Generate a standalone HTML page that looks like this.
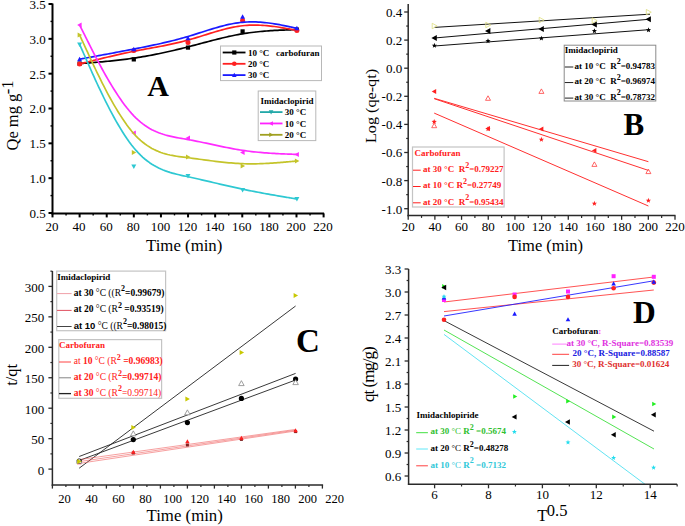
<!DOCTYPE html>
<html><head><meta charset="utf-8"><style>
html,body{margin:0;padding:0;background:#fff;width:685px;height:526px;overflow:hidden}
svg{display:block}
</style></head><body>
<svg width="685" height="526" viewBox="0 0 685 526">
<rect width="685" height="526" fill="#fff"/>
<polyline points="79.6,63.6 79.6,63.6 79.61,63.6 79.62,63.6 79.64,63.6 79.68,63.59 79.74,63.59 79.82,63.58 79.93,63.57 80.08,63.56 80.25,63.55 80.47,63.53 80.73,63.51 81.04,63.49 81.39,63.46 81.81,63.43 82.28,63.39 82.81,63.35 83.41,63.3 84.08,63.25 84.83,63.19 85.65,63.13 86.56,63.06 87.55,62.98 88.63,62.9 89.81,62.81 91.07,62.71 92.43,62.6 93.86,62.49 95.37,62.37 96.96,62.23 98.62,62.09 100.34,61.95 102.13,61.79 103.98,61.62 105.88,61.44 107.83,61.25 109.83,61.06 111.87,60.85 113.95,60.63 116.07,60.4 118.22,60.16 120.39,59.9 122.59,59.64 124.81,59.36 127.04,59.08 129.29,58.77 131.54,58.46 133.8,58.13 136.06,57.79 138.32,57.44 140.58,57.07 142.83,56.7 145.09,56.31 147.35,55.9 149.61,55.49 151.87,55.06 154.13,54.63 156.39,54.18 158.65,53.72 160.91,53.25 163.17,52.77 165.43,52.28 167.69,51.78 169.95,51.27 172.22,50.75 174.48,50.22 176.74,49.68 179.01,49.14 181.27,48.58 183.53,48.02 185.8,47.45 188.07,46.87 190.33,46.28 192.6,45.69 194.87,45.09 197.14,44.49 199.41,43.88 201.68,43.28 203.95,42.67 206.22,42.07 208.49,41.47 210.76,40.88 213.03,40.29 215.3,39.71 217.57,39.14 219.84,38.57 222.12,38.02 224.39,37.48 226.66,36.96 228.93,36.45 231.2,35.96 233.47,35.49 235.74,35.03 238.01,34.6 240.28,34.19 242.55,33.8 244.82,33.44 247.08,33.1 249.34,32.78 251.58,32.49 253.81,32.22 256.01,31.97 258.2,31.74 260.35,31.52 262.47,31.33 264.56,31.15 266.61,30.99 268.61,30.84 270.57,30.7 272.47,30.58 274.33,30.47 276.12,30.38 277.84,30.29 279.51,30.21 281.1,30.15 282.61,30.08 284.05,30.03 285.4,29.98 286.67,29.94 287.85,29.9 288.93,29.86 289.93,29.83 290.84,29.8 291.66,29.77 292.41,29.75 293.08,29.73 293.68,29.71 294.22,29.69 294.69,29.67 295.1,29.66 295.46,29.65 295.77,29.64 296.03,29.63 296.25,29.62 296.42,29.62 296.56,29.61 296.68,29.61 296.76,29.6 296.82,29.6 296.86,29.6 296.88,29.6 296.89,29.6 296.9,29.6 296.9,29.6" fill="none" stroke="#000" stroke-width="1.7" stroke-linejoin="round" />
<rect x="77.5" y="61.5" width="4.2" height="4.2" fill="#000" />
<rect x="131.7" y="57.3" width="4.2" height="4.2" fill="#000" />
<rect x="185.9" y="45.5" width="4.2" height="4.2" fill="#000" />
<rect x="240.5" y="29.3" width="4.2" height="4.2" fill="#000" />
<rect x="294.8" y="27.5" width="4.2" height="4.2" fill="#000" />
<polyline points="79.6,64 79.6,64 79.61,64 79.62,64 79.64,63.99 79.68,63.98 79.74,63.96 79.82,63.94 79.93,63.92 80.08,63.88 80.25,63.84 80.47,63.78 80.73,63.72 81.04,63.64 81.39,63.55 81.81,63.45 82.28,63.33 82.81,63.19 83.41,63.04 84.08,62.88 84.83,62.69 85.65,62.48 86.56,62.25 87.55,62.01 88.63,61.73 89.81,61.44 91.07,61.12 92.43,60.78 93.86,60.43 95.37,60.05 96.96,59.66 98.62,59.25 100.34,58.83 102.13,58.4 103.98,57.95 105.88,57.5 107.83,57.03 109.83,56.56 111.87,56.09 113.95,55.61 116.07,55.13 118.22,54.64 120.39,54.16 122.59,53.68 124.81,53.2 127.04,52.72 129.29,52.25 131.54,51.79 133.8,51.33 136.06,50.89 138.32,50.45 140.58,50.02 142.83,49.6 145.09,49.18 147.35,48.76 149.61,48.34 151.87,47.92 154.13,47.5 156.39,47.08 158.65,46.66 160.91,46.22 163.17,45.79 165.43,45.34 167.69,44.88 169.95,44.41 172.22,43.93 174.48,43.43 176.74,42.92 179.01,42.39 181.27,41.84 183.53,41.27 185.8,40.68 188.07,40.07 190.33,39.43 192.6,38.77 194.87,38.1 197.14,37.41 199.41,36.71 201.68,36 203.95,35.29 206.22,34.57 208.49,33.86 210.76,33.16 213.03,32.46 215.3,31.77 217.57,31.11 219.84,30.46 222.12,29.83 224.39,29.23 226.66,28.65 228.93,28.11 231.2,27.61 233.47,27.14 235.74,26.72 238.01,26.34 240.28,26.01 242.55,25.73 244.82,25.51 247.08,25.34 249.34,25.22 251.58,25.15 253.81,25.11 256.01,25.12 258.2,25.17 260.35,25.25 262.47,25.36 264.56,25.5 266.61,25.67 268.61,25.86 270.57,26.07 272.47,26.29 274.33,26.52 276.12,26.77 277.84,27.02 279.51,27.28 281.1,27.54 282.61,27.79 284.05,28.04 285.4,28.29 286.67,28.52 287.85,28.73 288.93,28.93 289.93,29.12 290.84,29.28 291.66,29.44 292.41,29.57 293.08,29.7 293.68,29.81 294.22,29.91 294.69,29.99 295.1,30.07 295.46,30.14 295.77,30.19 296.03,30.24 296.25,30.28 296.42,30.31 296.56,30.34 296.68,30.36 296.76,30.37 296.82,30.38 296.86,30.39 296.88,30.4 296.89,30.4 296.9,30.4 296.9,30.4" fill="none" stroke="#ff2020" stroke-width="1.7" stroke-linejoin="round" />
<circle cx="79.6" cy="64" r="2.5" fill="#ff2020" />
<circle cx="133.8" cy="50.4" r="2.5" fill="#ff2020" />
<circle cx="188" cy="42.4" r="2.5" fill="#ff2020" />
<circle cx="242.6" cy="20.4" r="2.5" fill="#ff2020" />
<circle cx="296.9" cy="30.4" r="2.5" fill="#ff2020" />
<polyline points="79.6,59.2 79.6,59.2 79.61,59.2 79.62,59.2 79.64,59.19 79.68,59.18 79.74,59.17 79.82,59.16 79.93,59.14 80.08,59.11 80.25,59.08 80.47,59.04 80.73,58.99 81.04,58.94 81.39,58.87 81.81,58.79 82.28,58.71 82.81,58.61 83.41,58.5 84.08,58.37 84.83,58.24 85.65,58.08 86.56,57.92 87.55,57.73 88.63,57.53 89.81,57.32 91.07,57.08 92.43,56.83 93.86,56.57 95.37,56.29 96.96,55.99 98.62,55.69 100.34,55.37 102.13,55.03 103.98,54.69 105.88,54.34 107.83,53.97 109.83,53.6 111.87,53.21 113.95,52.82 116.07,52.42 118.22,52.02 120.39,51.6 122.59,51.19 124.81,50.76 127.04,50.34 129.29,49.9 131.54,49.47 133.8,49.03 136.06,48.59 138.32,48.15 140.58,47.71 142.83,47.26 145.09,46.81 147.35,46.35 149.61,45.89 151.87,45.42 154.13,44.94 156.39,44.46 158.65,43.96 160.91,43.46 163.17,42.95 165.43,42.43 167.69,41.89 169.95,41.35 172.22,40.79 174.48,40.22 176.74,39.63 179.01,39.03 181.27,38.41 183.53,37.78 185.8,37.13 188.07,36.47 190.33,35.78 192.6,35.08 194.87,34.37 197.14,33.66 199.41,32.93 201.68,32.2 203.95,31.48 206.22,30.76 208.49,30.04 210.76,29.34 213.03,28.64 215.3,27.97 217.57,27.31 219.84,26.68 222.12,26.07 224.39,25.49 226.66,24.95 228.93,24.44 231.2,23.96 233.47,23.53 235.74,23.15 238.01,22.81 240.28,22.52 242.55,22.28 244.82,22.11 247.08,21.98 249.34,21.91 251.58,21.88 253.81,21.9 256.01,21.96 258.2,22.06 260.35,22.19 262.47,22.35 264.56,22.54 266.61,22.76 268.61,23 270.57,23.25 272.47,23.52 274.33,23.81 276.12,24.1 277.84,24.4 279.51,24.7 281.1,25 282.61,25.3 284.05,25.59 285.4,25.87 286.67,26.13 287.85,26.38 288.93,26.61 289.93,26.82 290.84,27.02 291.66,27.19 292.41,27.35 293.08,27.49 293.68,27.62 294.22,27.73 294.69,27.83 295.1,27.92 295.46,28 295.77,28.06 296.03,28.12 296.25,28.16 296.42,28.2 296.56,28.23 296.68,28.25 296.76,28.27 296.82,28.28 296.86,28.29 296.88,28.3 296.89,28.3 296.9,28.3 296.9,28.3" fill="none" stroke="#1a1aff" stroke-width="1.7" stroke-linejoin="round" />
<polygon points="79.6,56.7 82.1,61.2 77.1,61.2" fill="#1a1aff" />
<polygon points="133.8,46.7 136.3,51.2 131.3,51.2" fill="#1a1aff" />
<polygon points="188,35.7 190.5,40.2 185.5,40.2" fill="#1a1aff" />
<polygon points="242.6,14.3 245.1,18.8 240.1,18.8" fill="#1a1aff" />
<polygon points="296.9,25.8 299.4,30.3 294.4,30.3" fill="#1a1aff" />
<polyline points="79.6,44.4 79.6,44.4 79.61,44.41 79.62,44.44 79.64,44.49 79.68,44.58 79.74,44.72 79.82,44.91 79.93,45.15 80.08,45.47 80.25,45.87 80.47,46.36 80.73,46.95 81.04,47.64 81.39,48.44 81.81,49.37 82.28,50.43 82.81,51.64 83.41,52.99 84.08,54.51 84.83,56.19 85.65,58.04 86.56,60.09 87.55,62.33 88.63,64.77 89.81,67.42 91.07,70.26 92.43,73.28 93.86,76.47 95.37,79.79 96.96,83.25 98.62,86.81 100.34,90.47 102.13,94.21 103.98,98 105.88,101.84 107.83,105.7 109.83,109.56 111.87,113.42 113.95,117.26 116.07,121.05 118.22,124.78 120.39,128.44 122.59,132 124.81,135.45 127.04,138.77 129.29,141.95 131.54,144.96 133.8,147.8 136.06,150.45 138.32,152.9 140.58,155.18 142.83,157.29 145.09,159.24 147.35,161.03 149.61,162.68 151.87,164.19 154.13,165.58 156.39,166.84 158.65,167.99 160.91,169.05 163.17,170 165.43,170.88 167.69,171.67 169.95,172.4 172.22,173.06 174.48,173.68 176.74,174.25 179.01,174.79 181.27,175.3 183.53,175.8 185.8,176.28 188.07,176.77 190.33,177.26 192.6,177.76 194.87,178.26 197.14,178.77 199.41,179.29 201.68,179.81 203.95,180.34 206.22,180.86 208.49,181.39 210.76,181.93 213.03,182.46 215.3,182.99 217.57,183.52 219.84,184.06 222.12,184.59 224.39,185.11 226.66,185.64 228.93,186.16 231.2,186.68 233.47,187.19 235.74,187.69 238.01,188.19 240.28,188.68 242.55,189.17 244.82,189.64 247.08,190.11 249.34,190.56 251.58,191.01 253.81,191.45 256.01,191.87 258.2,192.29 260.35,192.7 262.47,193.09 264.56,193.48 266.61,193.85 268.61,194.21 270.57,194.56 272.47,194.89 274.33,195.21 276.12,195.52 277.84,195.82 279.51,196.1 281.1,196.37 282.61,196.63 284.05,196.87 285.4,197.09 286.67,197.3 287.85,197.5 288.93,197.68 289.93,197.84 290.84,198 291.66,198.13 292.41,198.26 293.08,198.37 293.68,198.47 294.22,198.56 294.69,198.63 295.1,198.7 295.46,198.76 295.77,198.81 296.03,198.86 296.25,198.89 296.42,198.92 296.56,198.94 296.68,198.96 296.76,198.98 296.82,198.99 296.86,198.99 296.88,199 296.89,199 296.9,199 296.9,199" fill="none" stroke="#2ec8d2" stroke-width="1.7" stroke-linejoin="round" />
<polygon points="79.6,46.9 82.1,42.4 77.1,42.4" fill="#2ec8d2" />
<polygon points="133.8,169.1 136.3,164.6 131.3,164.6" fill="#2ec8d2" />
<polygon points="188,178.5 190.5,174 185.5,174" fill="#2ec8d2" />
<polygon points="242.6,192.5 245.1,188 240.1,188" fill="#2ec8d2" />
<polygon points="296.9,201.5 299.4,197 294.4,197" fill="#2ec8d2" />
<polyline points="79.6,25 79.6,25 79.61,25.01 79.62,25.04 79.64,25.08 79.68,25.16 79.74,25.28 79.82,25.45 79.93,25.67 80.08,25.95 80.25,26.3 80.47,26.73 80.73,27.25 81.04,27.86 81.39,28.57 81.81,29.39 82.28,30.33 82.81,31.4 83.41,32.59 84.08,33.93 84.83,35.42 85.65,37.06 86.56,38.86 87.55,40.84 88.63,43 89.81,45.34 91.07,47.85 92.43,50.53 93.86,53.34 95.37,56.28 96.96,59.33 98.62,62.47 100.34,65.7 102.13,68.99 103.98,72.33 105.88,75.71 107.83,79.1 109.83,82.5 111.87,85.89 113.95,89.26 116.07,92.58 118.22,95.85 120.39,99.04 122.59,102.15 124.81,105.15 127.04,108.03 129.29,110.79 131.54,113.39 133.8,115.83 136.06,118.1 138.32,120.19 140.58,122.13 142.83,123.91 145.09,125.54 147.35,127.03 149.61,128.4 151.87,129.64 154.13,130.77 156.39,131.79 158.65,132.71 160.91,133.55 163.17,134.3 165.43,134.99 167.69,135.6 169.95,136.16 172.22,136.67 174.48,137.14 176.74,137.58 179.01,137.99 181.27,138.39 183.53,138.78 185.8,139.17 188.07,139.57 190.33,139.98 192.6,140.41 194.87,140.85 197.14,141.3 199.41,141.76 201.68,142.23 203.95,142.71 206.22,143.19 208.49,143.67 210.76,144.16 213.03,144.65 215.3,145.14 217.57,145.62 219.84,146.1 222.12,146.58 224.39,147.05 226.66,147.5 228.93,147.95 231.2,148.39 233.47,148.81 235.74,149.22 238.01,149.61 240.28,149.98 242.55,150.33 244.82,150.66 247.08,150.97 249.34,151.26 251.58,151.54 253.81,151.79 256.01,152.02 258.2,152.24 260.35,152.44 262.47,152.63 264.56,152.8 266.61,152.96 268.61,153.1 270.57,153.23 272.47,153.35 274.33,153.46 276.12,153.56 277.84,153.65 279.51,153.73 281.1,153.8 282.61,153.86 284.05,153.92 285.4,153.98 286.67,154.02 287.85,154.07 288.93,154.11 289.93,154.14 290.84,154.18 291.66,154.21 292.41,154.23 293.08,154.26 293.68,154.28 294.22,154.3 294.69,154.32 295.1,154.33 295.46,154.35 295.77,154.36 296.03,154.37 296.25,154.38 296.42,154.38 296.56,154.39 296.68,154.39 296.76,154.39 296.82,154.4 296.86,154.4 296.88,154.4 296.89,154.4 296.9,154.4 296.9,154.4" fill="none" stroke="#ff2cff" stroke-width="1.7" stroke-linejoin="round" />
<polygon points="77.1,25 81.6,22.5 81.6,27.5" fill="#ff2cff" />
<polygon points="131.3,133 135.8,130.5 135.8,135.5" fill="#ff2cff" />
<polygon points="185.5,138 190,135.5 190,140.5" fill="#ff2cff" />
<polygon points="240.1,152.4 244.6,149.9 244.6,154.9" fill="#ff2cff" />
<polygon points="294.4,154.4 298.9,151.9 298.9,156.9" fill="#ff2cff" />
<polyline points="79.6,35 79.6,35 79.61,35.01 79.62,35.04 79.64,35.09 79.68,35.18 79.74,35.31 79.82,35.49 79.93,35.72 80.08,36.03 80.25,36.42 80.47,36.88 80.73,37.45 81.04,38.11 81.39,38.88 81.81,39.78 82.28,40.8 82.81,41.95 83.41,43.25 84.08,44.71 84.83,46.32 85.65,48.11 86.56,50.07 87.55,52.22 88.63,54.57 89.81,57.11 91.07,59.84 92.43,62.75 93.86,65.8 95.37,69 96.96,72.31 98.62,75.73 100.34,79.23 102.13,82.81 103.98,86.44 105.88,90.11 107.83,93.8 109.83,97.49 111.87,101.17 113.95,104.82 116.07,108.42 118.22,111.96 120.39,115.42 122.59,118.79 124.81,122.04 127.04,125.17 129.29,128.15 131.54,130.96 133.8,133.6 136.06,136.05 138.32,138.3 140.58,140.38 142.83,142.29 145.09,144.04 147.35,145.63 149.61,147.08 151.87,148.39 154.13,149.57 156.39,150.64 158.65,151.59 160.91,152.44 163.17,153.2 165.43,153.87 167.69,154.46 169.95,154.99 172.22,155.45 174.48,155.87 176.74,156.24 179.01,156.57 181.27,156.88 183.53,157.17 185.8,157.45 188.07,157.73 190.33,158.02 192.6,158.31 194.87,158.61 197.14,158.91 199.41,159.22 201.68,159.52 203.95,159.83 206.22,160.13 208.49,160.43 210.76,160.73 213.03,161.02 215.3,161.3 217.57,161.57 219.84,161.84 222.12,162.09 224.39,162.34 226.66,162.56 228.93,162.78 231.2,162.97 233.47,163.15 235.74,163.31 238.01,163.45 240.28,163.57 242.55,163.67 244.82,163.74 247.08,163.79 249.34,163.81 251.58,163.82 253.81,163.81 256.01,163.78 258.2,163.73 260.35,163.67 262.47,163.6 264.56,163.51 266.61,163.42 268.61,163.31 270.57,163.2 272.47,163.08 274.33,162.96 276.12,162.83 277.84,162.7 279.51,162.57 281.1,162.43 282.61,162.3 284.05,162.18 285.4,162.06 286.67,161.94 287.85,161.83 288.93,161.73 289.93,161.64 290.84,161.56 291.66,161.48 292.41,161.41 293.08,161.35 293.68,161.3 294.22,161.25 294.69,161.2 295.1,161.17 295.46,161.13 295.77,161.1 296.03,161.08 296.25,161.06 296.42,161.04 296.56,161.03 296.68,161.02 296.76,161.01 296.82,161.01 296.86,161 296.88,161 296.89,161 296.9,161 296.9,161" fill="none" stroke="#c4c42a" stroke-width="1.7" stroke-linejoin="round" />
<polygon points="82.1,35 77.6,32.5 77.6,37.5" fill="#c4c42a" />
<polygon points="136.3,152.4 131.8,149.9 131.8,154.9" fill="#c4c42a" />
<polygon points="190.5,157 186,154.5 186,159.5" fill="#c4c42a" />
<polygon points="245.1,166 240.6,163.5 240.6,168.5" fill="#c4c42a" />
<polygon points="299.4,161 294.9,158.5 294.9,163.5" fill="#c4c42a" />
<line x1="52.5" y1="3.5" x2="52.5" y2="214.4" stroke="#000" stroke-width="2" />
<line x1="51.5" y1="213.4" x2="324.1" y2="213.4" stroke="#000" stroke-width="2" />
<line x1="48.5" y1="4" x2="52.5" y2="4" stroke="#000" stroke-width="2" />
<text x="45.8" y="8.9" font-family='"Liberation Serif", serif' font-size="13" font-weight="normal" text-anchor="end" fill="#000" >3.5</text>
<line x1="48.5" y1="38.84" x2="52.5" y2="38.84" stroke="#000" stroke-width="2" />
<text x="45.8" y="43.73" font-family='"Liberation Serif", serif' font-size="13" font-weight="normal" text-anchor="end" fill="#000" >3.0</text>
<line x1="48.5" y1="73.67" x2="52.5" y2="73.67" stroke="#000" stroke-width="2" />
<text x="45.8" y="78.57" font-family='"Liberation Serif", serif' font-size="13" font-weight="normal" text-anchor="end" fill="#000" >2.5</text>
<line x1="48.5" y1="108.5" x2="52.5" y2="108.5" stroke="#000" stroke-width="2" />
<text x="45.8" y="113.41" font-family='"Liberation Serif", serif' font-size="13" font-weight="normal" text-anchor="end" fill="#000" >2.0</text>
<line x1="48.5" y1="143.34" x2="52.5" y2="143.34" stroke="#000" stroke-width="2" />
<text x="45.8" y="148.24" font-family='"Liberation Serif", serif' font-size="13" font-weight="normal" text-anchor="end" fill="#000" >1.5</text>
<line x1="48.5" y1="178.18" x2="52.5" y2="178.18" stroke="#000" stroke-width="2" />
<text x="45.8" y="183.08" font-family='"Liberation Serif", serif' font-size="13" font-weight="normal" text-anchor="end" fill="#000" >1.0</text>
<line x1="48.5" y1="213.01" x2="52.5" y2="213.01" stroke="#000" stroke-width="2" />
<text x="45.8" y="217.91" font-family='"Liberation Serif", serif' font-size="13" font-weight="normal" text-anchor="end" fill="#000" >0.5</text>
<line x1="50.5" y1="21.42" x2="52.5" y2="21.42" stroke="#000" stroke-width="1.4" />
<line x1="50.5" y1="56.25" x2="52.5" y2="56.25" stroke="#000" stroke-width="1.4" />
<line x1="50.5" y1="91.09" x2="52.5" y2="91.09" stroke="#000" stroke-width="1.4" />
<line x1="50.5" y1="125.92" x2="52.5" y2="125.92" stroke="#000" stroke-width="1.4" />
<line x1="50.5" y1="160.76" x2="52.5" y2="160.76" stroke="#000" stroke-width="1.4" />
<line x1="50.5" y1="195.59" x2="52.5" y2="195.59" stroke="#000" stroke-width="1.4" />
<line x1="52.5" y1="213.4" x2="52.5" y2="217.4" stroke="#000" stroke-width="2" />
<text x="52" y="230.8" font-family='"Liberation Serif", serif' font-size="13" font-weight="normal" text-anchor="middle" fill="#000" >20</text>
<line x1="79.61" y1="213.4" x2="79.61" y2="217.4" stroke="#000" stroke-width="2" />
<text x="79.11" y="230.8" font-family='"Liberation Serif", serif' font-size="13" font-weight="normal" text-anchor="middle" fill="#000" >40</text>
<line x1="106.72" y1="213.4" x2="106.72" y2="217.4" stroke="#000" stroke-width="2" />
<text x="106.22" y="230.8" font-family='"Liberation Serif", serif' font-size="13" font-weight="normal" text-anchor="middle" fill="#000" >60</text>
<line x1="133.83" y1="213.4" x2="133.83" y2="217.4" stroke="#000" stroke-width="2" />
<text x="133.33" y="230.8" font-family='"Liberation Serif", serif' font-size="13" font-weight="normal" text-anchor="middle" fill="#000" >80</text>
<line x1="160.94" y1="213.4" x2="160.94" y2="217.4" stroke="#000" stroke-width="2" />
<text x="160.44" y="230.8" font-family='"Liberation Serif", serif' font-size="13" font-weight="normal" text-anchor="middle" fill="#000" >100</text>
<line x1="188.05" y1="213.4" x2="188.05" y2="217.4" stroke="#000" stroke-width="2" />
<text x="187.55" y="230.8" font-family='"Liberation Serif", serif' font-size="13" font-weight="normal" text-anchor="middle" fill="#000" >120</text>
<line x1="215.16" y1="213.4" x2="215.16" y2="217.4" stroke="#000" stroke-width="2" />
<text x="214.66" y="230.8" font-family='"Liberation Serif", serif' font-size="13" font-weight="normal" text-anchor="middle" fill="#000" >140</text>
<line x1="242.27" y1="213.4" x2="242.27" y2="217.4" stroke="#000" stroke-width="2" />
<text x="241.77" y="230.8" font-family='"Liberation Serif", serif' font-size="13" font-weight="normal" text-anchor="middle" fill="#000" >160</text>
<line x1="269.38" y1="213.4" x2="269.38" y2="217.4" stroke="#000" stroke-width="2" />
<text x="268.88" y="230.8" font-family='"Liberation Serif", serif' font-size="13" font-weight="normal" text-anchor="middle" fill="#000" >180</text>
<line x1="296.49" y1="213.4" x2="296.49" y2="217.4" stroke="#000" stroke-width="2" />
<text x="295.99" y="230.8" font-family='"Liberation Serif", serif' font-size="13" font-weight="normal" text-anchor="middle" fill="#000" >200</text>
<line x1="323.6" y1="213.4" x2="323.6" y2="217.4" stroke="#000" stroke-width="2" />
<text x="323.1" y="230.8" font-family='"Liberation Serif", serif' font-size="13" font-weight="normal" text-anchor="middle" fill="#000" >220</text>
<line x1="66.06" y1="213.4" x2="66.06" y2="215.4" stroke="#000" stroke-width="1.4" />
<line x1="93.17" y1="213.4" x2="93.17" y2="215.4" stroke="#000" stroke-width="1.4" />
<line x1="120.28" y1="213.4" x2="120.28" y2="215.4" stroke="#000" stroke-width="1.4" />
<line x1="147.38" y1="213.4" x2="147.38" y2="215.4" stroke="#000" stroke-width="1.4" />
<line x1="174.5" y1="213.4" x2="174.5" y2="215.4" stroke="#000" stroke-width="1.4" />
<line x1="201.61" y1="213.4" x2="201.61" y2="215.4" stroke="#000" stroke-width="1.4" />
<line x1="228.72" y1="213.4" x2="228.72" y2="215.4" stroke="#000" stroke-width="1.4" />
<line x1="255.82" y1="213.4" x2="255.82" y2="215.4" stroke="#000" stroke-width="1.4" />
<line x1="282.94" y1="213.4" x2="282.94" y2="215.4" stroke="#000" stroke-width="1.4" />
<line x1="310.05" y1="213.4" x2="310.05" y2="215.4" stroke="#000" stroke-width="1.4" />
<text x="184.2" y="250.6" font-family='"Liberation Serif", serif' font-size="16.8" font-weight="normal" text-anchor="middle" fill="#000" >Time (min)</text>
<text transform="translate(17.6,150.5) rotate(-90)" font-family='"Liberation Serif", serif' font-size="16.5" text-anchor="start" fill="#000">Qe mg g<tspan dy="-4.6" dx="-0.6">-1</tspan></text>
<text x="147.2" y="95.9" font-family='"Liberation Serif", serif' font-size="30" font-weight="bold" text-anchor="start" fill="#000" >A</text>
<rect x="220.5" y="46" width="101" height="34.6" fill="#fff" stroke="#b8b8b8" stroke-width="1"/>
<line x1="222.7" y1="52.5" x2="245.5" y2="52.5" stroke="#000" stroke-width="1.8" />
<rect x="232.2" y="50.4" width="4.2" height="4.2" fill="#000" />
<text x="247.9" y="55.7" font-family='"Liberation Serif", serif' font-size="9" font-weight="bold" text-anchor="start" fill="#000" >10 °C</text>
<line x1="222.7" y1="63.8" x2="245.5" y2="63.8" stroke="#ff2020" stroke-width="1.8" />
<circle cx="234.3" cy="63.8" r="2.3" fill="#ff2020" />
<text x="247.9" y="67" font-family='"Liberation Serif", serif' font-size="9" font-weight="bold" text-anchor="start" fill="#000" >20 °C</text>
<line x1="222.7" y1="75.1" x2="245.5" y2="75.1" stroke="#1a1aff" stroke-width="1.8" />
<polygon points="234.3,72.8 236.6,76.94 232,76.94" fill="#1a1aff" />
<text x="247.9" y="78.3" font-family='"Liberation Serif", serif' font-size="9" font-weight="bold" text-anchor="start" fill="#000" >30 °C</text>
<text x="276" y="55.7" font-family='"Liberation Serif", serif' font-size="9" font-weight="bold" text-anchor="start" fill="#000" >carbofuran</text>
<rect x="258.2" y="91" width="57.6" height="49.6" fill="#fff" stroke="#b8b8b8" stroke-width="1"/>
<text x="260.5" y="103.5" font-family='"Liberation Serif", serif' font-size="9" font-weight="bold" text-anchor="start" fill="#000" >Imidaclopirid</text>
<line x1="260" y1="112.1" x2="282.5" y2="112.1" stroke="#22a8a8" stroke-width="1.8" />
<polygon points="271.1,114.4 273.4,110.26 268.8,110.26" fill="#22a8a8" />
<text x="284.8" y="115.3" font-family='"Liberation Serif", serif' font-size="9" font-weight="bold" text-anchor="start" fill="#000" >30 °C</text>
<line x1="260" y1="123.45" x2="282.5" y2="123.45" stroke="#ff22ff" stroke-width="1.8" />
<polygon points="268.8,123.45 272.94,121.15 272.94,125.75" fill="#ff22ff" />
<text x="284.8" y="126.65" font-family='"Liberation Serif", serif' font-size="9" font-weight="bold" text-anchor="start" fill="#000" >10 °C</text>
<line x1="260" y1="134.8" x2="282.5" y2="134.8" stroke="#a0a020" stroke-width="1.8" />
<polygon points="273.4,134.8 269.26,132.5 269.26,137.1" fill="#a0a020" />
<text x="284.8" y="138" font-family='"Liberation Serif", serif' font-size="9" font-weight="bold" text-anchor="start" fill="#000" >20 °C</text>
<line x1="434.4" y1="27.4" x2="650" y2="14.2" stroke="#111" stroke-width="1" />
<line x1="434.4" y1="38" x2="650" y2="19.2" stroke="#111" stroke-width="1" />
<line x1="434.4" y1="46" x2="650" y2="29.6" stroke="#111" stroke-width="1" />
<line x1="434.2" y1="98.3" x2="648.4" y2="161.7" stroke="#ff3030" stroke-width="1" />
<line x1="434.2" y1="98.7" x2="648.4" y2="170.4" stroke="#ff3030" stroke-width="1" />
<line x1="434.2" y1="113.1" x2="648.4" y2="206" stroke="#ff3030" stroke-width="1" />
<polygon points="437.15,26 432.2,23.25 432.2,28.75" fill="none" stroke="#dede80" stroke-width="0.8"/>
<polygon points="490.75,25 485.8,22.25 485.8,27.75" fill="none" stroke="#dede80" stroke-width="0.8"/>
<polygon points="544.15,20 539.2,17.25 539.2,22.75" fill="none" stroke="#dede80" stroke-width="0.8"/>
<polygon points="597.15,20.6 592.2,17.85 592.2,23.35" fill="none" stroke="#dede80" stroke-width="0.8"/>
<polygon points="651.25,12.2 646.3,9.45 646.3,14.95" fill="none" stroke="#dede80" stroke-width="0.8"/>
<polygon points="431.4,38 436.8,35 436.8,41" fill="#000" />
<polygon points="485,31 490.4,28 490.4,34" fill="#000" />
<polygon points="538.4,29 543.8,26 543.8,32" fill="#000" />
<polygon points="591.4,24.6 596.8,21.6 596.8,27.6" fill="#000" />
<polygon points="645.5,19.2 650.9,16.2 650.9,22.2" fill="#000" />
<polygon points="434.4,42.85 435.08,44.67 437.02,44.75 435.5,45.96 436.02,47.82 434.4,46.76 432.78,47.82 433.3,45.96 431.78,44.75 433.72,44.67" fill="#000" />
<polygon points="488,38.25 488.68,40.07 490.62,40.15 489.1,41.36 489.62,43.22 488,42.16 486.38,43.22 486.9,41.36 485.38,40.15 487.32,40.07" fill="#000" />
<polygon points="541.4,35.65 542.08,37.47 544.02,37.55 542.5,38.76 543.02,40.62 541.4,39.55 539.78,40.62 540.3,38.76 538.78,37.55 540.72,37.47" fill="#000" />
<polygon points="594.4,28.25 595.08,30.07 597.02,30.15 595.5,31.36 596.02,33.22 594.4,32.16 592.78,33.22 593.3,31.36 591.78,30.15 593.72,30.07" fill="#000" />
<polygon points="648.5,27.35 649.18,29.17 651.12,29.25 649.6,30.46 650.12,32.32 648.5,31.26 646.88,32.32 647.4,30.46 645.88,29.25 647.82,29.17" fill="#000" />
<polygon points="434.2,123.2 436.7,127.7 431.7,127.7" fill="none" stroke="#ff4040" stroke-width="0.8"/>
<polygon points="488,95.8 490.5,100.3 485.5,100.3" fill="none" stroke="#ff4040" stroke-width="0.8"/>
<polygon points="541.4,88.9 543.9,93.4 538.9,93.4" fill="none" stroke="#ff4040" stroke-width="0.8"/>
<polygon points="594.4,161.9 596.9,166.4 591.9,166.4" fill="none" stroke="#ff4040" stroke-width="0.8"/>
<polygon points="648.4,169.1 650.9,173.6 645.9,173.6" fill="none" stroke="#ff4040" stroke-width="0.8"/>
<polygon points="431.7,91.6 436.2,89.1 436.2,94.1" fill="#ff2020" />
<polygon points="485.5,128.4 490,125.9 490,130.9" fill="#ff2020" />
<polygon points="538.9,129 543.4,126.5 543.4,131.5" fill="#ff2020" />
<polygon points="591.9,150.4 596.4,147.9 596.4,152.9" fill="#ff2020" />
<polygon points="434.2,119.05 434.88,120.87 436.82,120.95 435.3,122.16 435.82,124.02 434.2,122.95 432.58,124.02 433.1,122.16 431.58,120.95 433.52,120.87" fill="#ff2020" />
<polygon points="488,126.25 488.68,128.07 490.62,128.15 489.1,129.36 489.62,131.22 488,130.16 486.38,131.22 486.9,129.36 485.38,128.15 487.32,128.07" fill="#ff2020" />
<polygon points="541.4,136.85 542.08,138.67 544.02,138.75 542.5,139.96 543.02,141.82 541.4,140.75 539.78,141.82 540.3,139.96 538.78,138.75 540.72,138.67" fill="#ff2020" />
<polygon points="594.4,200.85 595.08,202.67 597.02,202.75 595.5,203.96 596.02,205.82 594.4,204.75 592.78,205.82 593.3,203.96 591.78,202.75 593.72,202.67" fill="#ff2020" />
<polygon points="648.4,197.85 649.08,199.67 651.02,199.75 649.5,200.96 650.02,202.82 648.4,201.75 646.78,202.82 647.3,200.96 645.78,199.75 647.72,199.67" fill="#ff2020" />
<line x1="408.2" y1="4" x2="408.2" y2="216.3" stroke="#2a2a2a" stroke-width="1.5" />
<line x1="407.5" y1="215.6" x2="675.5" y2="215.6" stroke="#2a2a2a" stroke-width="1.5" />
<line x1="404.2" y1="12" x2="408.2" y2="12" stroke="#2a2a2a" stroke-width="1.3" />
<text x="402.2" y="16.9" font-family='"Liberation Serif", serif' font-size="13" font-weight="normal" text-anchor="end" fill="#000" >0.4</text>
<line x1="404.2" y1="40.1" x2="408.2" y2="40.1" stroke="#2a2a2a" stroke-width="1.3" />
<text x="402.2" y="45" font-family='"Liberation Serif", serif' font-size="13" font-weight="normal" text-anchor="end" fill="#000" >0.2</text>
<line x1="404.2" y1="68.2" x2="408.2" y2="68.2" stroke="#2a2a2a" stroke-width="1.3" />
<text x="402.2" y="73.1" font-family='"Liberation Serif", serif' font-size="13" font-weight="normal" text-anchor="end" fill="#000" >0.0</text>
<line x1="404.2" y1="96.3" x2="408.2" y2="96.3" stroke="#2a2a2a" stroke-width="1.3" />
<text x="402.2" y="101.2" font-family='"Liberation Serif", serif' font-size="13" font-weight="normal" text-anchor="end" fill="#000" >-0.2</text>
<line x1="404.2" y1="124.4" x2="408.2" y2="124.4" stroke="#2a2a2a" stroke-width="1.3" />
<text x="402.2" y="129.3" font-family='"Liberation Serif", serif' font-size="13" font-weight="normal" text-anchor="end" fill="#000" >-0.4</text>
<line x1="404.2" y1="152.5" x2="408.2" y2="152.5" stroke="#2a2a2a" stroke-width="1.3" />
<text x="402.2" y="157.4" font-family='"Liberation Serif", serif' font-size="13" font-weight="normal" text-anchor="end" fill="#000" >-0.6</text>
<line x1="404.2" y1="180.6" x2="408.2" y2="180.6" stroke="#2a2a2a" stroke-width="1.3" />
<text x="402.2" y="185.5" font-family='"Liberation Serif", serif' font-size="13" font-weight="normal" text-anchor="end" fill="#000" >-0.8</text>
<line x1="404.2" y1="208.7" x2="408.2" y2="208.7" stroke="#2a2a2a" stroke-width="1.3" />
<text x="402.2" y="213.6" font-family='"Liberation Serif", serif' font-size="13" font-weight="normal" text-anchor="end" fill="#000" >-1.0</text>
<line x1="406.2" y1="26.05" x2="408.2" y2="26.05" stroke="#2a2a2a" stroke-width="1.2" />
<line x1="406.2" y1="54.15" x2="408.2" y2="54.15" stroke="#2a2a2a" stroke-width="1.2" />
<line x1="406.2" y1="82.25" x2="408.2" y2="82.25" stroke="#2a2a2a" stroke-width="1.2" />
<line x1="406.2" y1="110.35" x2="408.2" y2="110.35" stroke="#2a2a2a" stroke-width="1.2" />
<line x1="406.2" y1="138.45" x2="408.2" y2="138.45" stroke="#2a2a2a" stroke-width="1.2" />
<line x1="406.2" y1="166.55" x2="408.2" y2="166.55" stroke="#2a2a2a" stroke-width="1.2" />
<line x1="406.2" y1="194.65" x2="408.2" y2="194.65" stroke="#2a2a2a" stroke-width="1.2" />
<line x1="408.2" y1="215.6" x2="408.2" y2="219.8" stroke="#2a2a2a" stroke-width="1.3" />
<text x="408.2" y="231.2" font-family='"Liberation Serif", serif' font-size="13" font-weight="normal" text-anchor="middle" fill="#000" >20</text>
<line x1="434.88" y1="215.6" x2="434.88" y2="219.8" stroke="#2a2a2a" stroke-width="1.3" />
<text x="434.88" y="231.2" font-family='"Liberation Serif", serif' font-size="13" font-weight="normal" text-anchor="middle" fill="#000" >40</text>
<line x1="461.56" y1="215.6" x2="461.56" y2="219.8" stroke="#2a2a2a" stroke-width="1.3" />
<text x="461.56" y="231.2" font-family='"Liberation Serif", serif' font-size="13" font-weight="normal" text-anchor="middle" fill="#000" >60</text>
<line x1="488.24" y1="215.6" x2="488.24" y2="219.8" stroke="#2a2a2a" stroke-width="1.3" />
<text x="488.24" y="231.2" font-family='"Liberation Serif", serif' font-size="13" font-weight="normal" text-anchor="middle" fill="#000" >80</text>
<line x1="514.92" y1="215.6" x2="514.92" y2="219.8" stroke="#2a2a2a" stroke-width="1.3" />
<text x="514.92" y="231.2" font-family='"Liberation Serif", serif' font-size="13" font-weight="normal" text-anchor="middle" fill="#000" >100</text>
<line x1="541.6" y1="215.6" x2="541.6" y2="219.8" stroke="#2a2a2a" stroke-width="1.3" />
<text x="541.6" y="231.2" font-family='"Liberation Serif", serif' font-size="13" font-weight="normal" text-anchor="middle" fill="#000" >120</text>
<line x1="568.28" y1="215.6" x2="568.28" y2="219.8" stroke="#2a2a2a" stroke-width="1.3" />
<text x="568.28" y="231.2" font-family='"Liberation Serif", serif' font-size="13" font-weight="normal" text-anchor="middle" fill="#000" >140</text>
<line x1="594.96" y1="215.6" x2="594.96" y2="219.8" stroke="#2a2a2a" stroke-width="1.3" />
<text x="594.96" y="231.2" font-family='"Liberation Serif", serif' font-size="13" font-weight="normal" text-anchor="middle" fill="#000" >160</text>
<line x1="621.64" y1="215.6" x2="621.64" y2="219.8" stroke="#2a2a2a" stroke-width="1.3" />
<text x="621.64" y="231.2" font-family='"Liberation Serif", serif' font-size="13" font-weight="normal" text-anchor="middle" fill="#000" >180</text>
<line x1="648.32" y1="215.6" x2="648.32" y2="219.8" stroke="#2a2a2a" stroke-width="1.3" />
<text x="648.32" y="231.2" font-family='"Liberation Serif", serif' font-size="13" font-weight="normal" text-anchor="middle" fill="#000" >200</text>
<line x1="675" y1="215.6" x2="675" y2="219.8" stroke="#2a2a2a" stroke-width="1.3" />
<text x="675" y="231.2" font-family='"Liberation Serif", serif' font-size="13" font-weight="normal" text-anchor="middle" fill="#000" >220</text>
<line x1="421.54" y1="215.6" x2="421.54" y2="217.9" stroke="#2a2a2a" stroke-width="1.2" />
<line x1="448.22" y1="215.6" x2="448.22" y2="217.9" stroke="#2a2a2a" stroke-width="1.2" />
<line x1="474.9" y1="215.6" x2="474.9" y2="217.9" stroke="#2a2a2a" stroke-width="1.2" />
<line x1="501.58" y1="215.6" x2="501.58" y2="217.9" stroke="#2a2a2a" stroke-width="1.2" />
<line x1="528.26" y1="215.6" x2="528.26" y2="217.9" stroke="#2a2a2a" stroke-width="1.2" />
<line x1="554.94" y1="215.6" x2="554.94" y2="217.9" stroke="#2a2a2a" stroke-width="1.2" />
<line x1="581.62" y1="215.6" x2="581.62" y2="217.9" stroke="#2a2a2a" stroke-width="1.2" />
<line x1="608.3" y1="215.6" x2="608.3" y2="217.9" stroke="#2a2a2a" stroke-width="1.2" />
<line x1="634.98" y1="215.6" x2="634.98" y2="217.9" stroke="#2a2a2a" stroke-width="1.2" />
<line x1="661.66" y1="215.6" x2="661.66" y2="217.9" stroke="#2a2a2a" stroke-width="1.2" />
<text x="545.5" y="251" font-family='"Liberation Serif", serif' font-size="16.5" font-weight="normal" text-anchor="middle" fill="#000" >Time (min)</text>
<text transform="translate(375.6,106) rotate(-90)" font-family='"Liberation Serif", serif' font-size="15.2" textLength="74.2" lengthAdjust="spacingAndGlyphs" text-anchor="middle" fill="#000">Log (qe-qt)</text>
<text x="623.5" y="134.5" font-family='"Liberation Serif", serif' font-size="31" font-weight="bold" text-anchor="start" fill="#000" >B</text>
<rect x="564.2" y="45.2" width="91.6" height="55.8" fill="#fff" stroke="#8a8a8a" stroke-width="1"/>
<text x="564.8" y="52.7" font-family='"Liberation Serif", serif' font-size="9" font-weight="bold" text-anchor="start" fill="#000" >Imidaclopirid</text>
<line x1="564.8" y1="67" x2="573.3" y2="67" stroke="#222" stroke-width="1" />
<text x="574.6" y="68.5" font-family='"Liberation Serif", serif' font-size="9" font-weight="bold" text-anchor="start" fill="#000" >at 10 °C&#160;&#160;R<tspan font-size="8" dy="-4.5">2</tspan><tspan dy="4.5">=0.94783</tspan></text>
<line x1="564.8" y1="82.55" x2="573.3" y2="82.55" stroke="#222" stroke-width="1" />
<text x="574.6" y="84.05" font-family='"Liberation Serif", serif' font-size="9" font-weight="bold" text-anchor="start" fill="#000" >at 20 °C&#160;&#160;R<tspan font-size="8" dy="-4.5">2</tspan><tspan dy="4.5">=0.96974</tspan></text>
<line x1="564.8" y1="98.1" x2="573.3" y2="98.1" stroke="#222" stroke-width="1" />
<text x="574.6" y="99.6" font-family='"Liberation Serif", serif' font-size="9" font-weight="bold" text-anchor="start" fill="#000" >at 30 °C&#160;&#160;R<tspan font-size="8" dy="-4.5">2</tspan><tspan dy="4.5">=0.78732</tspan></text>
<rect x="412.5" y="147" width="91.6" height="60" fill="#fff" stroke="#c4c4c4" stroke-width="1.2"/>
<text x="414.6" y="155.7" font-family='"Liberation Serif", serif' font-size="9" font-weight="bold" text-anchor="start" fill="#ff2020" >Carbofuran</text>
<line x1="413" y1="170.2" x2="420.7" y2="170.2" stroke="#ff2020" stroke-width="1" />
<text x="423.1" y="172" font-family='"Liberation Serif", serif' font-size="9" font-weight="bold" text-anchor="start" fill="#ff2020" >at 30 °C&#160;&#160;R<tspan font-size="8" dy="-4.5">2</tspan><tspan dy="4.5">=0.79227</tspan></text>
<line x1="413" y1="186.5" x2="420.7" y2="186.5" stroke="#ff2020" stroke-width="1" />
<text x="423.1" y="188.3" font-family='"Liberation Serif", serif' font-size="9" font-weight="bold" text-anchor="start" fill="#ff2020" >at 10 °C R<tspan font-size="8" dy="-4.5">2</tspan><tspan dy="4.5">=0.27749</tspan></text>
<line x1="413" y1="202.8" x2="420.7" y2="202.8" stroke="#ff2020" stroke-width="1" />
<text x="423.1" y="204.6" font-family='"Liberation Serif", serif' font-size="9" font-weight="bold" text-anchor="start" fill="#ff2020" >at 20 °C&#160;&#160;R<tspan font-size="8" dy="-4.5">2</tspan><tspan dy="4.5">=0.95434</tspan></text>
<line x1="79.2" y1="468.2" x2="295.6" y2="306" stroke="#222" stroke-width="0.9" />
<line x1="79.2" y1="456.5" x2="295.6" y2="373.4" stroke="#222" stroke-width="0.9" />
<line x1="79.2" y1="460.5" x2="295.6" y2="380" stroke="#222" stroke-width="0.9" />
<line x1="79.2" y1="459.6" x2="295.6" y2="429.4" stroke="#f06060" stroke-width="0.6" />
<line x1="79.2" y1="461.6" x2="295.6" y2="430.2" stroke="#f06060" stroke-width="0.6" />
<line x1="79.2" y1="463.4" x2="295.6" y2="431" stroke="#f06060" stroke-width="0.6" />
<rect x="131.8" y="451.5" width="3" height="3" fill="#802020" />
<rect x="185.9" y="443.5" width="3" height="3" fill="#802020" />
<rect x="239.9" y="437.9" width="3" height="3" fill="#802020" />
<rect x="294.1" y="430.1" width="3" height="3" fill="#802020" />
<polygon points="79.2,460.25 81.45,464.3 76.95,464.3" fill="#ff2020" />
<polygon points="133.3,449.75 135.55,453.8 131.05,453.8" fill="#ff2020" />
<polygon points="187.4,439.15 189.65,443.2 185.15,443.2" fill="#ff2020" />
<polygon points="241.4,435.75 243.65,439.8 239.15,439.8" fill="#ff2020" />
<polygon points="295.6,428.15 297.85,432.2 293.35,432.2" fill="#ff2020" />
<circle cx="79.2" cy="461" r="2.6" fill="#000" />
<circle cx="133.3" cy="439.6" r="2.6" fill="#000" />
<circle cx="187.4" cy="422.6" r="2.6" fill="#000" />
<circle cx="241.4" cy="398.4" r="2.6" fill="#000" />
<circle cx="295.6" cy="379" r="2.6" fill="#000" />
<polygon points="79.2,458.25 81.95,463.2 76.45,463.2" fill="#fff" stroke="#888" stroke-width="0.8"/>
<polygon points="133.3,430.85 136.05,435.8 130.55,435.8" fill="#fff" stroke="#888" stroke-width="0.8"/>
<polygon points="187.4,409.85 190.15,414.8 184.65,414.8" fill="#fff" stroke="#888" stroke-width="0.8"/>
<polygon points="241.4,380.65 244.15,385.6 238.65,385.6" fill="#fff" stroke="#888" stroke-width="0.8"/>
<polygon points="295.6,379.65 298.35,384.6 292.85,384.6" fill="#fff" stroke="#888" stroke-width="0.8"/>
<polygon points="81.7,461.4 77.2,458.9 77.2,463.9" fill="#c8c800" />
<polygon points="135.8,427.6 131.3,425.1 131.3,430.1" fill="#c8c800" />
<polygon points="189.9,399 185.4,396.5 185.4,401.5" fill="#c8c800" />
<polygon points="244.1,352.6 239.6,350.1 239.6,355.1" fill="#c8c800" />
<polygon points="298.1,295.4 293.6,292.9 293.6,297.9" fill="#c8c800" />
<line x1="52.4" y1="271" x2="52.4" y2="485.7" stroke="#2a2a2a" stroke-width="1.5" />
<line x1="51.7" y1="485" x2="323.1" y2="485" stroke="#2a2a2a" stroke-width="1.5" />
<line x1="48.4" y1="286.4" x2="52.4" y2="286.4" stroke="#2a2a2a" stroke-width="1.3" />
<text x="44.3" y="291.8" font-family='"Liberation Serif", serif' font-size="13" font-weight="normal" text-anchor="end" fill="#000" >300</text>
<line x1="48.4" y1="316.85" x2="52.4" y2="316.85" stroke="#2a2a2a" stroke-width="1.3" />
<text x="44.3" y="322.25" font-family='"Liberation Serif", serif' font-size="13" font-weight="normal" text-anchor="end" fill="#000" >250</text>
<line x1="48.4" y1="347.3" x2="52.4" y2="347.3" stroke="#2a2a2a" stroke-width="1.3" />
<text x="44.3" y="352.7" font-family='"Liberation Serif", serif' font-size="13" font-weight="normal" text-anchor="end" fill="#000" >200</text>
<line x1="48.4" y1="377.75" x2="52.4" y2="377.75" stroke="#2a2a2a" stroke-width="1.3" />
<text x="44.3" y="383.15" font-family='"Liberation Serif", serif' font-size="13" font-weight="normal" text-anchor="end" fill="#000" >150</text>
<line x1="48.4" y1="408.2" x2="52.4" y2="408.2" stroke="#2a2a2a" stroke-width="1.3" />
<text x="44.3" y="413.6" font-family='"Liberation Serif", serif' font-size="13" font-weight="normal" text-anchor="end" fill="#000" >100</text>
<line x1="48.4" y1="438.65" x2="52.4" y2="438.65" stroke="#2a2a2a" stroke-width="1.3" />
<text x="44.3" y="444.05" font-family='"Liberation Serif", serif' font-size="13" font-weight="normal" text-anchor="end" fill="#000" >50</text>
<line x1="48.4" y1="469.1" x2="52.4" y2="469.1" stroke="#2a2a2a" stroke-width="1.3" />
<text x="44.3" y="474.5" font-family='"Liberation Serif", serif' font-size="13" font-weight="normal" text-anchor="end" fill="#000" >0</text>
<line x1="50.4" y1="271.18" x2="52.4" y2="271.18" stroke="#2a2a2a" stroke-width="1.2" />
<line x1="50.4" y1="301.62" x2="52.4" y2="301.62" stroke="#2a2a2a" stroke-width="1.2" />
<line x1="50.4" y1="332.08" x2="52.4" y2="332.08" stroke="#2a2a2a" stroke-width="1.2" />
<line x1="50.4" y1="362.53" x2="52.4" y2="362.53" stroke="#2a2a2a" stroke-width="1.2" />
<line x1="50.4" y1="392.98" x2="52.4" y2="392.98" stroke="#2a2a2a" stroke-width="1.2" />
<line x1="50.4" y1="423.43" x2="52.4" y2="423.43" stroke="#2a2a2a" stroke-width="1.2" />
<line x1="50.4" y1="453.88" x2="52.4" y2="453.88" stroke="#2a2a2a" stroke-width="1.2" />
<line x1="52.4" y1="485" x2="52.4" y2="488.6" stroke="#2a2a2a" stroke-width="1.3" />
<line x1="79.4" y1="485" x2="79.4" y2="488.6" stroke="#2a2a2a" stroke-width="1.3" />
<line x1="106.4" y1="485" x2="106.4" y2="488.6" stroke="#2a2a2a" stroke-width="1.3" />
<line x1="133.4" y1="485" x2="133.4" y2="488.6" stroke="#2a2a2a" stroke-width="1.3" />
<line x1="160.4" y1="485" x2="160.4" y2="488.6" stroke="#2a2a2a" stroke-width="1.3" />
<line x1="187.4" y1="485" x2="187.4" y2="488.6" stroke="#2a2a2a" stroke-width="1.3" />
<line x1="214.4" y1="485" x2="214.4" y2="488.6" stroke="#2a2a2a" stroke-width="1.3" />
<line x1="241.4" y1="485" x2="241.4" y2="488.6" stroke="#2a2a2a" stroke-width="1.3" />
<line x1="268.4" y1="485" x2="268.4" y2="488.6" stroke="#2a2a2a" stroke-width="1.3" />
<line x1="295.4" y1="485" x2="295.4" y2="488.6" stroke="#2a2a2a" stroke-width="1.3" />
<line x1="322.4" y1="485" x2="322.4" y2="488.6" stroke="#2a2a2a" stroke-width="1.3" />
<line x1="65.9" y1="485" x2="65.9" y2="487" stroke="#2a2a2a" stroke-width="1.2" />
<line x1="92.9" y1="485" x2="92.9" y2="487" stroke="#2a2a2a" stroke-width="1.2" />
<line x1="119.9" y1="485" x2="119.9" y2="487" stroke="#2a2a2a" stroke-width="1.2" />
<line x1="146.9" y1="485" x2="146.9" y2="487" stroke="#2a2a2a" stroke-width="1.2" />
<line x1="173.9" y1="485" x2="173.9" y2="487" stroke="#2a2a2a" stroke-width="1.2" />
<line x1="200.9" y1="485" x2="200.9" y2="487" stroke="#2a2a2a" stroke-width="1.2" />
<line x1="227.9" y1="485" x2="227.9" y2="487" stroke="#2a2a2a" stroke-width="1.2" />
<line x1="254.9" y1="485" x2="254.9" y2="487" stroke="#2a2a2a" stroke-width="1.2" />
<line x1="281.9" y1="485" x2="281.9" y2="487" stroke="#2a2a2a" stroke-width="1.2" />
<line x1="308.9" y1="485" x2="308.9" y2="487" stroke="#2a2a2a" stroke-width="1.2" />
<text x="64.5" y="502.8" font-family='"Liberation Serif", serif' font-size="12.5" font-weight="normal" text-anchor="middle" fill="#000" >20</text>
<text x="91.5" y="502.8" font-family='"Liberation Serif", serif' font-size="12.5" font-weight="normal" text-anchor="middle" fill="#000" >40</text>
<text x="118.5" y="502.8" font-family='"Liberation Serif", serif' font-size="12.5" font-weight="normal" text-anchor="middle" fill="#000" >60</text>
<text x="145.5" y="502.8" font-family='"Liberation Serif", serif' font-size="12.5" font-weight="normal" text-anchor="middle" fill="#000" >80</text>
<text x="172.5" y="502.8" font-family='"Liberation Serif", serif' font-size="12.5" font-weight="normal" text-anchor="middle" fill="#000" >100</text>
<text x="199.5" y="502.8" font-family='"Liberation Serif", serif' font-size="12.5" font-weight="normal" text-anchor="middle" fill="#000" >120</text>
<text x="226.5" y="502.8" font-family='"Liberation Serif", serif' font-size="12.5" font-weight="normal" text-anchor="middle" fill="#000" >140</text>
<text x="253.5" y="502.8" font-family='"Liberation Serif", serif' font-size="12.5" font-weight="normal" text-anchor="middle" fill="#000" >160</text>
<text x="280.5" y="502.8" font-family='"Liberation Serif", serif' font-size="12.5" font-weight="normal" text-anchor="middle" fill="#000" >180</text>
<text x="307.5" y="502.8" font-family='"Liberation Serif", serif' font-size="12.5" font-weight="normal" text-anchor="middle" fill="#000" >200</text>
<text x="334.5" y="502.8" font-family='"Liberation Serif", serif' font-size="12.5" font-weight="normal" text-anchor="middle" fill="#000" >220</text>
<text x="184.7" y="521" font-family='"Liberation Serif", serif' font-size="16.8" font-weight="normal" text-anchor="middle" fill="#000" >Time (min)</text>
<text transform="translate(16.5,374.8) rotate(-90)" font-family='"Liberation Serif", serif' font-size="16" textLength="22" lengthAdjust="spacingAndGlyphs" text-anchor="middle" fill="#000">t/qt</text>
<text x="296" y="352.1" font-family='"Liberation Serif", serif' font-size="33" font-weight="bold" text-anchor="start" fill="#000" >C</text>
<rect x="56.7" y="271.1" width="108.9" height="59.6" fill="#fff" stroke="#c4c4c4" stroke-width="1.2"/>
<text x="57.2" y="279.5" font-family='"Liberation Serif", serif' font-size="9" font-weight="bold" text-anchor="start" fill="#000" >Imidaclopirid</text>
<line x1="57" y1="293.6" x2="71.6" y2="293.6" stroke="#f0a0a8" stroke-width="1" />
<text x="73.7" y="295.6" font-family='"Liberation Serif", serif' font-size="9.5" font-weight="bold" text-anchor="start" fill="#000" >at 30 <tspan font-weight="normal">°C ((R</tspan><tspan font-size="8" dy="-4.5">2</tspan><tspan dy="4.5">=0.99679)</tspan></text>
<line x1="57" y1="310.4" x2="71.6" y2="310.4" stroke="#e05060" stroke-width="1" />
<text x="73.7" y="312.1" font-family='"Liberation Serif", serif' font-size="9.5" font-weight="bold" text-anchor="start" fill="#000" >at 20 <tspan font-weight="normal">°C (R</tspan><tspan font-size="8" dy="-4.5">2</tspan><tspan dy="4.5"> =0.93519)</tspan></text>
<line x1="57" y1="326.5" x2="71.6" y2="326.5" stroke="#444" stroke-width="1" />
<text x="73.7" y="328.6" font-family='"Liberation Serif", serif' font-size="9.5" font-weight="bold" text-anchor="start" fill="#000" ><tspan font-family="Liberation Sans">at 10</tspan> <tspan font-weight="normal">°C ((R</tspan><tspan font-size="8" dy="-4.5">2</tspan><tspan dy="4.5">=0.98015)</tspan></text>
<rect x="58.8" y="339.6" width="102.8" height="58.7" fill="#fff" stroke="#c4c4c4" stroke-width="1.2"/>
<text x="59.1" y="348.4" font-family='"Liberation Serif", serif' font-size="9" font-weight="bold" text-anchor="start" fill="#ff2020" >Carbofuran</text>
<line x1="59" y1="362" x2="71" y2="362" stroke="#ff3030" stroke-width="0.9" />
<text x="73.7" y="364.2" font-family='"Liberation Serif", serif' font-size="9.5" font-weight="bold" text-anchor="start" fill="#ff2020" ><tspan font-weight="normal">at</tspan> 10 <tspan font-weight="normal">°C (R</tspan><tspan font-size="8" dy="-4.5">2</tspan><tspan dy="4.5"> =0.96983)</tspan></text>
<line x1="59" y1="377.8" x2="71" y2="377.8" stroke="#777" stroke-width="0.9" />
<text x="73.7" y="380" font-family='"Liberation Serif", serif' font-size="9.5" font-weight="bold" text-anchor="start" fill="#ff2020" >at 20 <tspan font-weight="normal">°C (R</tspan><tspan font-size="8" dy="-4.5">2</tspan><tspan dy="4.5">=0.99714)</tspan></text>
<line x1="59" y1="393.6" x2="71" y2="393.6" stroke="#222" stroke-width="1.3" />
<text x="73.7" y="395.8" font-family='"Liberation Serif", serif' font-size="9.5" font-weight="bold" text-anchor="start" fill="#ff2020" >at 30 <tspan font-weight="normal">°C (R</tspan><tspan font-size="8" dy="-4.5">2</tspan><tspan dy="4.5"><tspan font-weight="normal">=0.99714)</tspan></tspan></text>
<defs><clipPath id="cd"><rect x="408.6" y="260" width="270" height="224.3"/></clipPath></defs>
<g clip-path="url(#cd)">
<line x1="444" y1="302" x2="653.8" y2="277" stroke="#ff4040" stroke-width="0.9" />
<line x1="444" y1="311.6" x2="653.8" y2="290" stroke="#ff4040" stroke-width="0.9" />
<line x1="444" y1="316" x2="653.8" y2="280.8" stroke="#2020ff" stroke-width="0.9" />
<line x1="444" y1="320.6" x2="654" y2="431.2" stroke="#222" stroke-width="0.9" />
<line x1="444" y1="330" x2="654" y2="449" stroke="#40e040" stroke-width="0.9" />
<line x1="444" y1="334.4" x2="664" y2="498.4" stroke="#50e0f0" stroke-width="0.9" />
</g>
<rect x="442" y="298" width="4" height="4" fill="#ff22ff" />
<rect x="512.6" y="292.5" width="4" height="4" fill="#ff22ff" />
<rect x="566" y="289.5" width="4" height="4" fill="#ff22ff" />
<rect x="611.6" y="274.2" width="4" height="4" fill="#ff22ff" />
<rect x="651.8" y="274.8" width="4" height="4" fill="#ff22ff" />
<circle cx="444" cy="319.8" r="2.3" fill="#ff2020" />
<circle cx="514.6" cy="296.9" r="2.3" fill="#ff2020" />
<circle cx="568" cy="296.9" r="2.3" fill="#ff2020" />
<circle cx="613.6" cy="288.3" r="2.3" fill="#ff2020" />
<circle cx="653.8" cy="282.6" r="2.3" fill="#ff2020" />
<polygon points="444,295.3 446.3,299.44 441.7,299.44" fill="#1a1aff" />
<polygon points="514.6,311.6 516.9,315.74 512.3,315.74" fill="#1a1aff" />
<polygon points="568,317.2 570.3,321.34 565.7,321.34" fill="#1a1aff" />
<polygon points="613.6,281.3 615.9,285.44 611.3,285.44" fill="#1a1aff" />
<polygon points="653.8,279.6 656.1,283.74 651.5,283.74" fill="#1a1aff" />
<polygon points="446.3,286.4 442.16,284.1 442.16,288.7" fill="#22ee22" />
<polygon points="517.3,396.5 513.16,394.2 513.16,398.8" fill="#22ee22" />
<polygon points="570.3,401.3 566.16,399 566.16,403.6" fill="#22ee22" />
<polygon points="616.3,416.9 612.16,414.6 612.16,419.2" fill="#22ee22" />
<polygon points="656.3,404 652.16,401.7 652.16,406.3" fill="#22ee22" />
<polygon points="441.3,287.5 446.16,284.8 446.16,290.2" fill="#000" />
<polygon points="511.7,416.9 516.56,414.2 516.56,419.6" fill="#000" />
<polygon points="565,422 569.86,419.3 569.86,424.7" fill="#000" />
<polygon points="610.9,434.8 615.76,432.1 615.76,437.5" fill="#000" />
<polygon points="650.9,414.8 655.76,412.1 655.76,417.5" fill="#000" />
<polygon points="444,294 444.64,295.72 446.47,295.8 445.04,296.94 445.53,298.7 444,297.69 442.47,298.7 442.96,296.94 441.53,295.8 443.36,295.72" fill="#22ddee" />
<polygon points="514.4,429.2 515.04,430.92 516.87,431 515.44,432.14 515.93,433.9 514.4,432.89 512.87,433.9 513.36,432.14 511.93,431 513.76,430.92" fill="#22ddee" />
<polygon points="568,439.7 568.64,441.42 570.47,441.5 569.04,442.64 569.53,444.4 568,443.39 566.47,444.4 566.96,442.64 565.53,441.5 567.36,441.42" fill="#22ddee" />
<polygon points="613.6,455.3 614.24,457.02 616.07,457.1 614.64,458.24 615.13,460 613.6,458.99 612.07,460 612.56,458.24 611.13,457.1 612.96,457.02" fill="#22ddee" />
<polygon points="653.6,465 654.24,466.72 656.07,466.8 654.64,467.94 655.13,469.7 653.6,468.69 652.07,469.7 652.56,467.94 651.13,466.8 652.96,466.72" fill="#22ddee" />
<line x1="408.6" y1="269" x2="408.6" y2="485" stroke="#2a2a2a" stroke-width="1.5" />
<line x1="407.9" y1="484.3" x2="677.1" y2="484.3" stroke="#2a2a2a" stroke-width="1.5" />
<line x1="404.6" y1="269" x2="408.6" y2="269" stroke="#2a2a2a" stroke-width="1.3" />
<text x="401.3" y="273.9" font-family='"Liberation Serif", serif' font-size="13" font-weight="normal" text-anchor="end" fill="#000" >3.3</text>
<line x1="404.6" y1="292" x2="408.6" y2="292" stroke="#2a2a2a" stroke-width="1.3" />
<text x="401.3" y="296.9" font-family='"Liberation Serif", serif' font-size="13" font-weight="normal" text-anchor="end" fill="#000" >3.0</text>
<line x1="404.6" y1="315" x2="408.6" y2="315" stroke="#2a2a2a" stroke-width="1.3" />
<text x="401.3" y="319.9" font-family='"Liberation Serif", serif' font-size="13" font-weight="normal" text-anchor="end" fill="#000" >2.7</text>
<line x1="404.6" y1="338" x2="408.6" y2="338" stroke="#2a2a2a" stroke-width="1.3" />
<text x="401.3" y="342.9" font-family='"Liberation Serif", serif' font-size="13" font-weight="normal" text-anchor="end" fill="#000" >2.4</text>
<line x1="404.6" y1="361" x2="408.6" y2="361" stroke="#2a2a2a" stroke-width="1.3" />
<text x="401.3" y="365.9" font-family='"Liberation Serif", serif' font-size="13" font-weight="normal" text-anchor="end" fill="#000" >2.1</text>
<line x1="404.6" y1="384" x2="408.6" y2="384" stroke="#2a2a2a" stroke-width="1.3" />
<text x="401.3" y="388.9" font-family='"Liberation Serif", serif' font-size="13" font-weight="normal" text-anchor="end" fill="#000" >1.8</text>
<line x1="404.6" y1="407.01" x2="408.6" y2="407.01" stroke="#2a2a2a" stroke-width="1.3" />
<text x="401.3" y="411.91" font-family='"Liberation Serif", serif' font-size="13" font-weight="normal" text-anchor="end" fill="#000" >1.5</text>
<line x1="404.6" y1="430.01" x2="408.6" y2="430.01" stroke="#2a2a2a" stroke-width="1.3" />
<text x="401.3" y="434.91" font-family='"Liberation Serif", serif' font-size="13" font-weight="normal" text-anchor="end" fill="#000" >1.2</text>
<line x1="404.6" y1="453.01" x2="408.6" y2="453.01" stroke="#2a2a2a" stroke-width="1.3" />
<text x="401.3" y="457.91" font-family='"Liberation Serif", serif' font-size="13" font-weight="normal" text-anchor="end" fill="#000" >0.9</text>
<line x1="404.6" y1="476.01" x2="408.6" y2="476.01" stroke="#2a2a2a" stroke-width="1.3" />
<text x="401.3" y="480.91" font-family='"Liberation Serif", serif' font-size="13" font-weight="normal" text-anchor="end" fill="#000" >0.6</text>
<line x1="406.6" y1="280.5" x2="408.6" y2="280.5" stroke="#2a2a2a" stroke-width="1.2" />
<line x1="406.6" y1="303.5" x2="408.6" y2="303.5" stroke="#2a2a2a" stroke-width="1.2" />
<line x1="406.6" y1="326.5" x2="408.6" y2="326.5" stroke="#2a2a2a" stroke-width="1.2" />
<line x1="406.6" y1="349.5" x2="408.6" y2="349.5" stroke="#2a2a2a" stroke-width="1.2" />
<line x1="406.6" y1="372.5" x2="408.6" y2="372.5" stroke="#2a2a2a" stroke-width="1.2" />
<line x1="406.6" y1="395.51" x2="408.6" y2="395.51" stroke="#2a2a2a" stroke-width="1.2" />
<line x1="406.6" y1="418.51" x2="408.6" y2="418.51" stroke="#2a2a2a" stroke-width="1.2" />
<line x1="406.6" y1="441.51" x2="408.6" y2="441.51" stroke="#2a2a2a" stroke-width="1.2" />
<line x1="406.6" y1="464.51" x2="408.6" y2="464.51" stroke="#2a2a2a" stroke-width="1.2" />
<line x1="434.6" y1="484.3" x2="434.6" y2="488.3" stroke="#2a2a2a" stroke-width="1.3" />
<text x="434.6" y="499.2" font-family='"Liberation Serif", serif' font-size="13" font-weight="normal" text-anchor="middle" fill="#000" >6</text>
<line x1="488.5" y1="484.3" x2="488.5" y2="488.3" stroke="#2a2a2a" stroke-width="1.3" />
<text x="488.5" y="499.2" font-family='"Liberation Serif", serif' font-size="13" font-weight="normal" text-anchor="middle" fill="#000" >8</text>
<line x1="542.4" y1="484.3" x2="542.4" y2="488.3" stroke="#2a2a2a" stroke-width="1.3" />
<text x="542.4" y="499.2" font-family='"Liberation Serif", serif' font-size="13" font-weight="normal" text-anchor="middle" fill="#000" >10</text>
<line x1="596.3" y1="484.3" x2="596.3" y2="488.3" stroke="#2a2a2a" stroke-width="1.3" />
<text x="596.3" y="499.2" font-family='"Liberation Serif", serif' font-size="13" font-weight="normal" text-anchor="middle" fill="#000" >12</text>
<line x1="650.2" y1="484.3" x2="650.2" y2="488.3" stroke="#2a2a2a" stroke-width="1.3" />
<text x="650.2" y="499.2" font-family='"Liberation Serif", serif' font-size="13" font-weight="normal" text-anchor="middle" fill="#000" >14</text>
<line x1="461.55" y1="484.3" x2="461.55" y2="486.5" stroke="#2a2a2a" stroke-width="1.2" />
<line x1="515.45" y1="484.3" x2="515.45" y2="486.5" stroke="#2a2a2a" stroke-width="1.2" />
<line x1="569.35" y1="484.3" x2="569.35" y2="486.5" stroke="#2a2a2a" stroke-width="1.2" />
<line x1="623.25" y1="484.3" x2="623.25" y2="486.5" stroke="#2a2a2a" stroke-width="1.2" />
<line x1="677.15" y1="484.3" x2="677.15" y2="486.5" stroke="#2a2a2a" stroke-width="1.2" />
<text x="537.3" y="520.7" font-family='"Liberation Serif", serif' font-size="16.5" font-weight="normal" text-anchor="start" fill="#000" >T</text>
<text x="546.8" y="516.4" font-family='"Liberation Serif", serif' font-size="16.5" font-weight="normal" text-anchor="start" fill="#000" >0.5</text>
<text transform="translate(374,374.1) rotate(-90)" font-family='"Liberation Serif", serif' font-size="17" textLength="55.6" lengthAdjust="spacing" text-anchor="middle" fill="#000">qt (mg/g)</text>
<text x="632.9" y="323.1" font-family='"Liberation Serif", serif' font-size="31.5" font-weight="bold" text-anchor="start" fill="#000" >D</text>
<text x="552.2" y="334.3" font-family='"Liberation Serif", serif' font-size="9" font-weight="bold" text-anchor="start" fill="#000" >Carbofuran<tspan fill="#ff40ff">:</tspan></text>
<line x1="552.2" y1="344.1" x2="566.5" y2="344.1" stroke="#ff80ff" stroke-width="1" />
<text x="566.5" y="346" font-family='"Liberation Serif", serif' font-size="9" font-weight="bold" text-anchor="start" fill="#e030e0" >at 30 °C, R-Square=0.83539</text>
<line x1="552.2" y1="354.3" x2="569.1" y2="354.3" stroke="#ff4040" stroke-width="1" />
<text x="572.6" y="356.4" font-family='"Liberation Serif", serif' font-size="9" font-weight="bold" text-anchor="start" fill="#2020e0" >20 °C, R-Square=0.88587</text>
<line x1="552.2" y1="365.4" x2="569.1" y2="365.4" stroke="#222" stroke-width="1" />
<text x="572.2" y="367.4" font-family='"Liberation Serif", serif' font-size="9" font-weight="bold" text-anchor="start" fill="#e03030" >30 °C, R-Square=0.01624</text>
<text x="416.6" y="418" font-family='"Liberation Serif", serif' font-size="9" font-weight="bold" text-anchor="start" fill="#000" >Imidachlopiride</text>
<line x1="416.2" y1="432.7" x2="427.9" y2="432.7" stroke="#40e040" stroke-width="1" />
<text x="430.5" y="434.3" font-family='"Liberation Serif", serif' font-size="9" font-weight="bold" text-anchor="start" fill="#30c030" >at 30 <tspan font-weight="normal">°C</tspan> R<tspan font-size="8" dy="-4.5">2</tspan><tspan dy="4.5"> =0.5674</tspan></text>
<line x1="416.2" y1="449" x2="427.9" y2="449" stroke="#60e8f8" stroke-width="1" />
<text x="430.5" y="451.1" font-family='"Liberation Serif", serif' font-size="9" font-weight="bold" text-anchor="start" fill="#000" >at 20 <tspan font-weight="normal">°C</tspan> R<tspan font-size="8" dy="-4.5">2</tspan><tspan dy="4.5">=0.48278</tspan></text>
<line x1="416.2" y1="465.8" x2="427.9" y2="465.8" stroke="#ff4040" stroke-width="1" />
<text x="430.5" y="467.9" font-family='"Liberation Serif", serif' font-size="9" font-weight="bold" text-anchor="start" fill="#30c8d8" >at 10 <tspan font-weight="normal">°C</tspan> R<tspan font-size="8" dy="-4.5">2</tspan><tspan dy="4.5"> =0.7132</tspan></text>
</svg>
</body></html>
